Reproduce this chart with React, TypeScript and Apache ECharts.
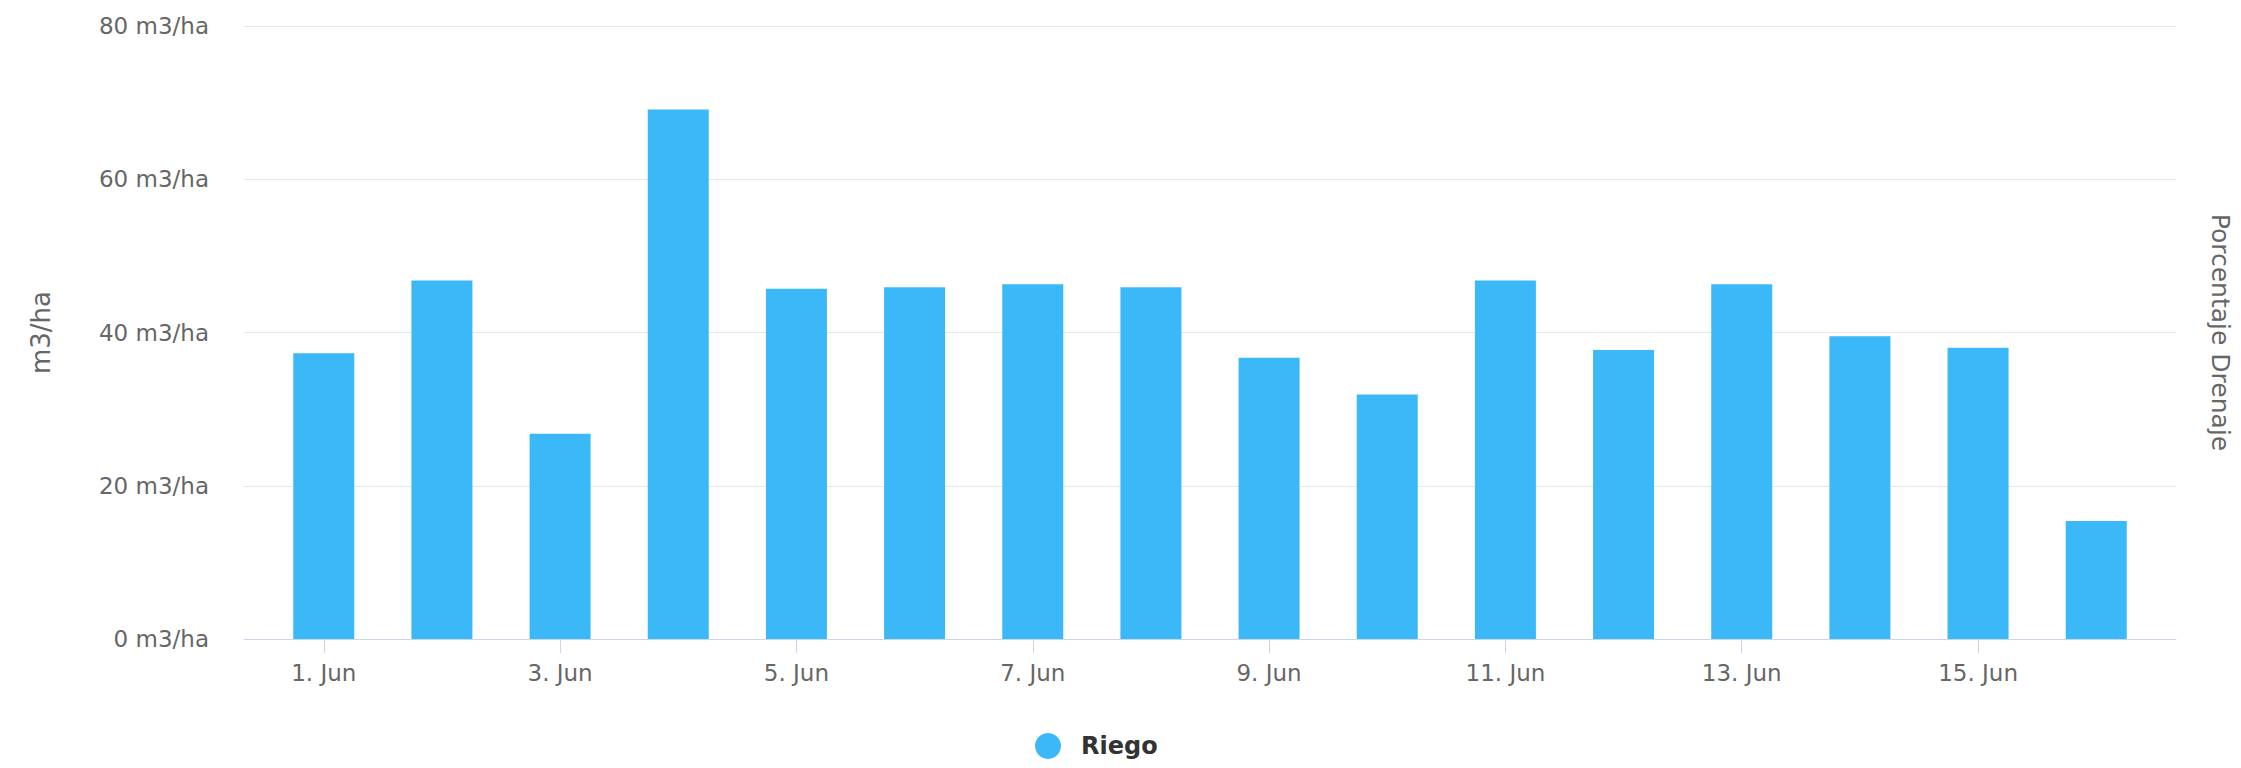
import React, { useEffect, useRef } from "react";
import * as echarts from "echarts";

const days = [1, 2, 3, 4, 5, 6, 7, 8, 9, 10, 11, 12, 13, 14, 15, 16];
const riego = [37.3, 46.8, 26.8, 69.1, 45.7, 45.9, 46.3, 45.9, 36.7, 31.9, 46.8, 37.7, 46.3, 39.5, 38.0, 15.4];
const tickDays = [1, 3, 5, 7, 9, 11, 13, 15];
const tickLabels = ["1. Jun", "3. Jun", "5. Jun", "7. Jun", "9. Jun", "11. Jun", "13. Jun", "15. Jun"];
const yTicks = [0, 20, 40, 60, 80];

export default function App() {
  const ref = useRef<HTMLDivElement>(null);
  useEffect(() => {
    if (!ref.current) return;
    const chart = echarts.init(ref.current, null, { renderer: "svg" });
    const labelFont = "'DejaVu Sans', Verdana, sans-serif";
    chart.setOption({
      animation: false,
      backgroundColor: "#ffffff",
      grid: { left: 244, right: 50, top: 26, bottom: 129, containLabel: false },
      legend: {
        bottom: 4,
        left: 1030,
        icon: "circle",
        itemWidth: 28,
        itemHeight: 26,
        itemGap: 20,
        textStyle: {
          fontSize: 24,
          fontWeight: "bold",
          color: "#333333",
          fontFamily: labelFont,
          padding: [0, 0, 0, 14],
        },
        data: ["Riego"],
      },
      xAxis: {
        type: "value",
        min: 0.325,
        max: 16.675,
        axisLine: { show: true, lineStyle: { color: "#ccd6eb", width: 1 } },
        axisTick: {
          show: true,
          length: 14,
          lineStyle: { color: "#ccd6eb" },
          customValues: tickDays,
        },
        axisLabel: {
          customValues: tickDays,
          margin: 22,
          fontSize: 23,
          color: "#666666",
          fontFamily: labelFont,
          formatter: (v: number) => {
            const i = tickDays.indexOf(Math.round(v));
            return i >= 0 ? tickLabels[i] : "";
          },
        },
        splitLine: { show: false },
      },
      yAxis: [
        {
          type: "value",
          min: 0,
          max: 80,
          interval: 20,
          name: "m3/ha",
          nameLocation: "middle",
          nameGap: 190,
          nameTextStyle: { fontSize: 26, color: "#666666", fontFamily: labelFont },
          axisLine: { show: false },
          axisTick: { show: false },
          axisLabel: {
            margin: 35,
            fontSize: 23,
            color: "#666666",
            fontFamily: labelFont,
            formatter: (v: number) => (yTicks.indexOf(v) >= 0 ? v + " m3/ha" : ""),
          },
          splitLine: { show: true, lineStyle: { color: "#e6e6e6", width: 1 } },
        },
        {
          type: "value",
          position: "right",
          min: 0,
          max: 80,
          interval: 20,
          name: "Porcentaje Drenaje",
          nameLocation: "middle",
          nameRotate: -90,
          nameGap: 32,
          nameTextStyle: { fontSize: 25, color: "#666666", fontFamily: labelFont },
          axisLine: { show: false },
          axisTick: { show: false },
          axisLabel: { show: false },
          splitLine: { show: false },
        },
      ],
      series: [
        {
          name: "Riego",
          type: "bar",
          barWidth: 61,
          itemStyle: { color: "#3bb8f7" },
          data: days.map((d, i) => [d, riego[i]]),
        },
      ],
    });
    return () => chart.dispose();
  }, []);
  return (
    <div
      ref={ref}
      style={{ position: "fixed", left: 0, top: 0, width: 2241, height: 768 }}
    />
  );
}
